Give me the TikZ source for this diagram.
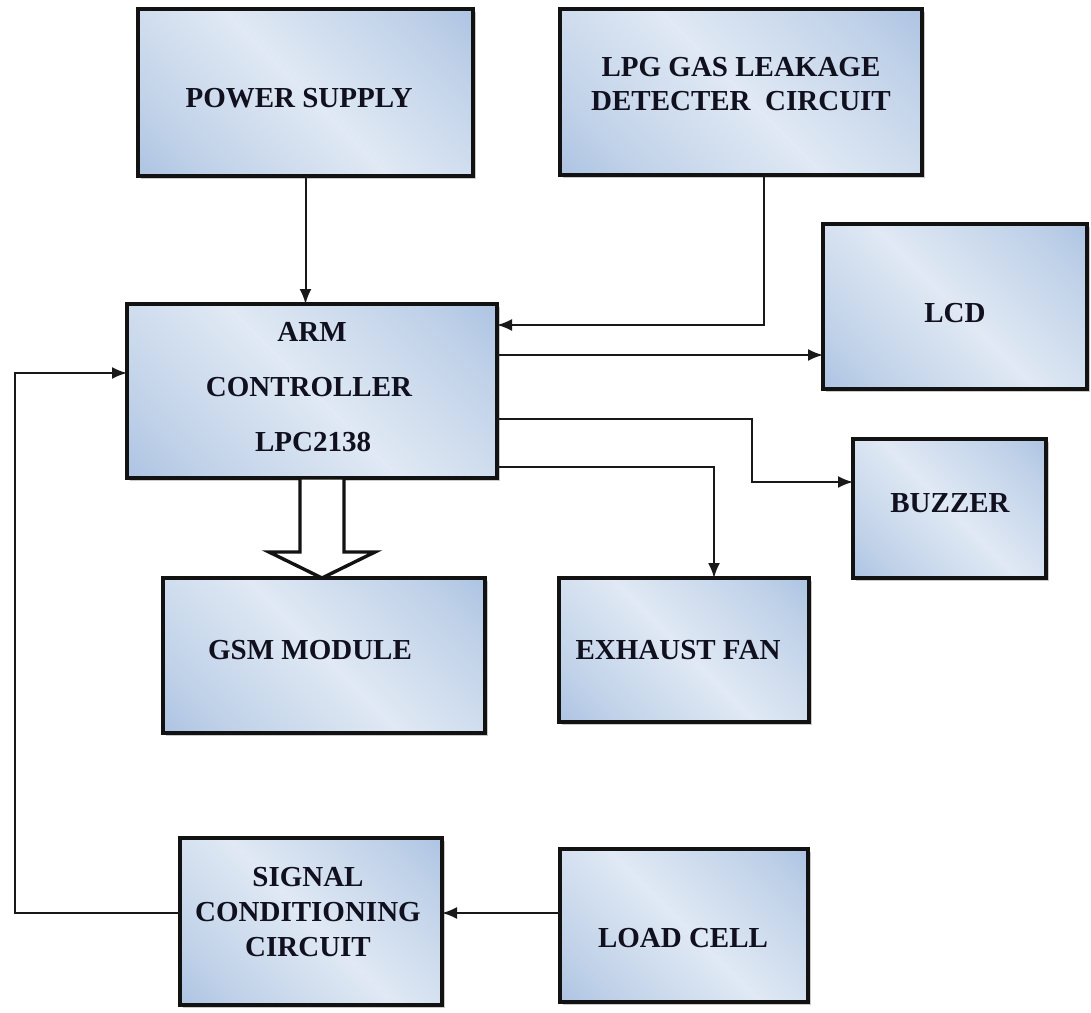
\documentclass[tikz,border=0pt]{standalone}
\usepackage{fontspec}
\setmainfont{Liberation Serif}
\usetikzlibrary{arrows.meta,shadows}
\definecolor{bblue}{HTML}{91B0D9}
\definecolor{bmid}{HTML}{BED0E8}
\definecolor{blight}{HTML}{E0E9F4}
\definecolor{txtc}{HTML}{10101E}
\definecolor{edgec}{HTML}{121212}
\pgfdeclarehorizontalshading{boxsh}{100bp}{color(0bp)=(bblue); color(24bp)=(bmid); color(50bp)=(blight); color(76bp)=(bmid); color(100bp)=(bblue)}
\begin{document}
\begin{tikzpicture}[x=1pt,y=-1pt,
  blk/.style={draw=edgec, line width=3.2pt, shading=boxsh, shading angle=45,
    drop shadow={shadow xshift=2.5pt, shadow yshift=-2.5pt, opacity=0.35, fill=black!60},
    inner sep=0pt, outer sep=0pt},
  lbl/.style={text=txtc, font=\fontsize{29}{34}\selectfont\bfseries, align=center, inner sep=0pt},
  conn/.style={draw=black!90, line width=2pt, -{Latex[length=15pt,width=12pt]}},
  hollow/.style={draw=edgec, line width=3.4pt, fill=white, line join=miter}
]
\useasboundingbox (0,0) rectangle (1091,1012);

% boxes
\node[blk, minimum width=335pt, minimum height=167pt] (ps)   at (305.5,92.5) {};
\node[blk, minimum width=362pt, minimum height=166pt] (lpg)  at (741,92) {};
\node[blk, minimum width=264pt, minimum height=165pt] (lcd)  at (955,306.5) {};
\node[blk, minimum width=370pt, minimum height=174pt] (arm)  at (312,391) {};
\node[blk, minimum width=193pt, minimum height=139pt] (buz)  at (949.5,508.5) {};
\node[blk, minimum width=322pt, minimum height=155pt] (gsm)  at (324,655.5) {};
\node[blk, minimum width=250pt, minimum height=144pt] (fan)  at (684,650) {};
\node[blk, minimum width=262pt, minimum height=167pt] (sig)  at (311,921.5) {};
\node[blk, minimum width=248pt, minimum height=153pt] (load) at (684,925.5) {};

% texts
\node[lbl] (ps-t)   at (299,98) {POWER SUPPLY};
\node[lbl] (lpg-t)  at (741,84) {LPG GAS LEAKAGE\\DETECTER\ \ CIRCUIT};
\node[lbl] (lcd-t)  at (955,313) {LCD};
\node[lbl] (arm-t1) at (312,332) {ARM};
\node[lbl] (arm-t2) at (309,387) {CONTROLLER};
\node[lbl] (arm-t3) at (313,442) {LPC2138};
\node[lbl] (buz-t)  at (950,503) {BUZZER};
\node[lbl] (gsm-t)  at (310,650) {GSM MODULE};
\node[lbl] (fan-t)  at (678,650) {EXHAUST FAN};
\node[lbl] (sig-t)  at (308,912) {SIGNAL\\[1pt]CONDITIONING\\[1pt]CIRCUIT};
\node[lbl] (load-t) at (683,938) {LOAD CELL};

% connectors
\draw[conn] (ps.south) -- (ps.south |- arm.north);
\draw[conn] ([xshift=23pt]lpg.south) |- ([yshift=66pt]arm.east);
\draw[conn] ([yshift=36pt]arm.east) -- ([yshift=36pt]arm.east -| lcd.west);
\draw[conn] ([yshift=-28pt]arm.east) -- ++(255,0) |- ([yshift=26.5pt]buz.west);
\draw[conn] ([yshift=-76pt]arm.east) -| ([xshift=30pt]fan.north);
\draw[conn] ([yshift=12.5pt]load.west) -- ([yshift=12.5pt]load.west -| sig.east);
\draw[conn] ([yshift=8.5pt]sig.west) -- ++(-165,0) |- ([yshift=18pt]arm.west);

% big hollow arrow
\draw[hollow] (322,578) -- (269,552) -- (300,552) -- (300,478) -- (344,478) -- (344,552) -- (375,552) -- cycle;
\end{tikzpicture}
\end{document}
